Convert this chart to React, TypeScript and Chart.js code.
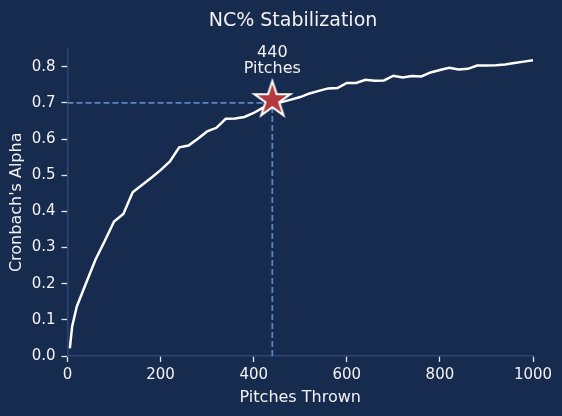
import React, { useEffect, useRef } from "react";
import { Chart, registerables } from "chart.js";

Chart.register(...registerables);

const PITCHES = [5, 10, 20, 40, 60, 80, 100, 120, 140, 160, 180, 200, 220, 240, 260, 280, 300, 320, 340, 360, 380, 400, 420, 440, 460, 480, 500, 520, 540, 560, 580, 600, 620, 640, 660, 680, 700, 720, 740, 760, 780, 800, 820, 840, 860, 880, 900, 920, 940, 960, 980, 1000];
const ALPHA = [0.021, 0.082, 0.137, 0.202, 0.266, 0.318, 0.372, 0.393, 0.453, 0.473, 0.493, 0.514, 0.538, 0.577, 0.582, 0.601, 0.621, 0.631, 0.656, 0.657, 0.661, 0.672, 0.687, 0.697, 0.702, 0.709, 0.716, 0.726, 0.733, 0.740, 0.741, 0.755, 0.755, 0.764, 0.761, 0.762, 0.775, 0.770, 0.774, 0.773, 0.784, 0.791, 0.797, 0.792, 0.794, 0.803, 0.803, 0.804, 0.806, 0.810, 0.814, 0.818];

const THRESHOLD = 0.7;
const STAB_PITCHES = 440;
const STAR_ALPHA = 0.708;
const ANNOTATION = ["440", "Pitches"];
const TITLE = "NC% Stabilization";
const X_LABEL = "Pitches Thrown";
const Y_LABEL = "Cronbach's Alpha";
const X_TICKS = [0, 200, 400, 600, 800, 1000];
const Y_TICKS = [0, 0.1, 0.2, 0.3, 0.4, 0.5, 0.6, 0.7, 0.8];

const BG = "#172b4e";
const SPINE = "#2f4676";
const DASH = "#5b86c6";
const STAR_FILL = "#b3393f";
const TEXT = "#f2f2f2";
const FONT = "'DejaVu Sans', sans-serif";

function makeStar(): HTMLCanvasElement {
  const size = 52;
  const c = document.createElement("canvas");
  c.width = size;
  c.height = size;
  const ctx = c.getContext("2d")!;
  const cx = size / 2;
  const cy = size / 2;
  const R = 19;
  const r = R * 0.381966;
  ctx.beginPath();
  for (let i = 0; i < 10; i++) {
    const rad = i % 2 === 0 ? R : r;
    const a = -Math.PI / 2 + (i * Math.PI) / 5;
    const px = cx + rad * Math.cos(a);
    const py = cy + rad * Math.sin(a);
    if (i === 0) ctx.moveTo(px, py);
    else ctx.lineTo(px, py);
  }
  ctx.closePath();
  ctx.fillStyle = STAR_FILL;
  ctx.fill();
  ctx.lineWidth = 2;
  ctx.lineJoin = "miter";
  ctx.strokeStyle = "#ffffff";
  ctx.stroke();
  return c;
}

export default function App() {
  const ref = useRef<HTMLCanvasElement | null>(null);

  useEffect(() => {
    document.body.style.margin = "0";
    document.body.style.background = BG;
    const canvas = ref.current;
    if (!canvas) return;

    const star = makeStar();

    const bgPlugin = {
      id: "bg",
      beforeDraw(chart: any) {
        const ctx = chart.ctx;
        ctx.save();
        ctx.fillStyle = BG;
        ctx.fillRect(0, 0, chart.width, chart.height);
        ctx.restore();
      },
      afterDraw(chart: any) {
        const ctx = chart.ctx;
        const xs = chart.scales.x;
        const ys = chart.scales.y;
        ctx.save();
        ctx.fillStyle = TEXT;
        ctx.textAlign = "center";
        ctx.textBaseline = "alphabetic";
        ctx.font = `19px ${FONT}`;
        ctx.fillText(TITLE, 293, 25.7);
        ctx.font = `16px ${FONT}`;
        const ax = xs.getPixelForValue(STAB_PITCHES);
        const base = ys.getPixelForValue(THRESHOLD) - 29.7;
        ctx.fillText(ANNOTATION[0], ax, base - 16.6);
        ctx.fillText(ANNOTATION[1], ax, base);
        ctx.restore();
      },
    };

    const chart = new Chart(canvas, {
      type: "line",
      data: {
        datasets: [
          {
            label: "star",
            data: [{ x: STAB_PITCHES, y: STAR_ALPHA }],
            pointStyle: star as any,
            pointRadius: 20,
            showLine: false,
            order: 0,
          },
          {
            label: "alpha",
            data: PITCHES.map((p, i) => ({ x: p, y: ALPHA[i] })),
            borderColor: "#ffffff",
            borderWidth: 2.5,
            pointRadius: 0,
            tension: 0,
            fill: false,
            order: 1,
          },
          {
            label: "h",
            data: [
              { x: 0, y: THRESHOLD },
              { x: STAB_PITCHES, y: THRESHOLD },
            ],
            borderColor: DASH,
            borderWidth: 1.7,
            borderDash: [6, 3],
            pointRadius: 0,
            order: 2,
          },
          {
            label: "v",
            data: [
              { x: STAB_PITCHES, y: 0 },
              { x: STAB_PITCHES, y: THRESHOLD },
            ],
            borderColor: DASH,
            borderWidth: 1.7,
            borderDash: [6, 3],
            pointRadius: 0,
            order: 2,
          },
        ],
      },
      options: {
        animation: false,
        responsive: false,
        devicePixelRatio: 1,
        layout: { padding: { top: 48.6, right: 29, left: 0, bottom: 0 } },
        plugins: {
          legend: { display: false },
          title: { display: false },
          tooltip: { enabled: false },
        },
        scales: {
          x: {
            type: "linear",
            min: 0,
            max: 1000,
            afterFit(scale: any) {
              scale.height = 60;
            },
            afterBuildTicks(scale: any) {
              scale.ticks = X_TICKS.map((v) => ({ value: v }));
            },
            ticks: {
              color: TEXT,
              font: { family: FONT, size: 15 },
              padding: 4,
              maxRotation: 0,
              callback: (v: any) => String(v),
            },
            grid: {
              drawOnChartArea: false,
              drawTicks: true,
              tickLength: 6,
              tickColor: "#e8e8e8",
              tickWidth: 1.3,
            },
            border: { display: true, color: SPINE, width: 1.5 },
            title: {
              display: true,
              text: X_LABEL,
              color: TEXT,
              font: { family: FONT, size: 16 },
              padding: { top: 0, bottom: 8.4 },
            },
          },
          y: {
            type: "linear",
            min: 0,
            max: 0.85,
            afterFit(scale: any) {
              scale.width = 67.5;
            },
            afterBuildTicks(scale: any) {
              scale.ticks = Y_TICKS.map((v) => ({ value: v }));
            },
            ticks: {
              color: TEXT,
              font: { family: FONT, size: 15 },
              padding: 6,
              callback: (v: any) => Number(v).toFixed(1),
            },
            grid: {
              drawOnChartArea: false,
              drawTicks: true,
              tickLength: 6,
              tickColor: "#e8e8e8",
              tickWidth: 1.3,
            },
            border: { display: true, color: SPINE, width: 1.5 },
            title: {
              display: true,
              text: Y_LABEL,
              color: TEXT,
              font: { family: FONT, size: 16 },
              padding: { top: 7.4, bottom: 0 },
            },
          },
        },
      },
      plugins: [bgPlugin],
    } as any);

    return () => chart.destroy();
  }, []);

  return (
    <div style={{ width: 562, height: 416 }}>
      <canvas ref={ref} width={562} height={416} style={{ display: "block", width: 562, height: 416 }} />
    </div>
  );
}
